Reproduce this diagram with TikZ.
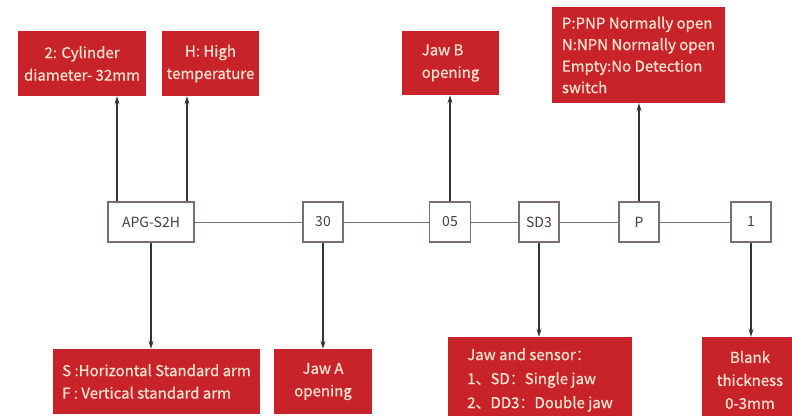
\documentclass[tikz,border=0pt]{standalone}
\usepackage{fontspec}
\setmainfont{Noto Sans CJK SC}
\newfontfamily\tagfont[FakeBold=0.7]{Noto Sans CJK SC}
\usetikzlibrary{arrows.meta, calc}
\definecolor{tagred}{HTML}{C8222A}
\definecolor{tagtext}{HTML}{F8E4CE}
\definecolor{codeline}{HTML}{7D6D6B}
\tikzset{
	codebox/.style={draw=codeline, line width=1.2pt, fill=white, minimum width=40pt, minimum height=40pt, inner sep=2pt, font=\fontsize{14}{16}\selectfont\color{black!75}}
}
\tikzset{
	tagbox/.style={fill=tagred, text=tagtext, inner sep=2pt, font=\tagfont\fontsize{15}{22.5}\selectfont}
}
\tikzset{
	link/.style={draw=codeline, line width=1pt},
	pointer/.style={draw=black!80, line width=1.4pt, -{Stealth[length=8pt,width=5pt]}}
}

\begin{document}
\begin{tikzpicture}[x=1pt, y=-1pt]
      \useasboundingbox (0,0) rectangle (792,415);
      % model code
      \node[codebox, minimum width=86pt] (series) at (151,222) {APG-S2H};
      \node[codebox] (jawa) at (323,222) {30};
      \node[codebox, minimum width=41pt] (jawb) at (450,222) {05};
      \node[codebox] (sensor) at (539,222) {SD3};
      \node[codebox] (switch) at (639,222) {P};
      \node[codebox] (blank) at (751,222) {1};
      \draw[link] (series) -- (jawa);
      \draw[link] (jawa) -- (jawb);
      \draw[link] (jawb) -- (sensor);
      \draw[link] (sensor) -- (switch);
      \draw[link] (switch) -- (blank);
      % explanations above
      \node[tagbox, minimum width=128pt, minimum height=65pt, align=center] (tdia) at (82,63.5) {2: Cylinder\\diameter- 32mm};
      \node[tagbox, minimum width=97pt, minimum height=65pt, align=center] (ttemp) at (210.5,63.5) {H: High\\temperature};
      \node[tagbox, minimum width=97pt, minimum height=64pt, align=left] (tjawb) at (450.5,63) {Jaw B\\opening};
      \node[tagbox, minimum width=173pt, minimum height=96pt, align=left, font=\tagfont\fontsize{15}{21.5}\selectfont] (tswitch) at (638.5,55) {P:PNP Normally open\\N:NPN Normally open\\Empty:No Detection\\switch};
      % explanations below
      \node[tagbox, minimum width=207pt, minimum height=65pt, align=left] (tarm) at (156.5,381.5) {S :Horizontal Standard arm\\F : Vertical standard arm};
      \node[tagbox, minimum width=98pt, minimum height=65pt, align=center] (tjawa) at (323,381.5) {Jaw A\\opening};
      \node[tagbox, minimum width=184pt, minimum height=86pt, align=left, font=\tagfont\fontsize{15}{24}\selectfont] (tsensor) at (540,380) {Jaw and sensor：\\1、SD：Single jaw\\2、DD3：Double jaw};
      \node[tagbox, minimum width=96pt, minimum height=86pt, align=center, font=\tagfont\fontsize{15}{23}\selectfont] (tblank) at (750,380) {Blank\\thickness\\0-3mm};
      % pointers
      \draw[pointer] ([xshift=-34pt]series.north) -- ([xshift=-34pt]series.north |- tdia.south);
      \draw[pointer] ([xshift=36pt]series.north) -- ([xshift=36pt]series.north |- ttemp.south);
      \draw[pointer] (jawb.north) -- (jawb.north |- tjawb.south);
      \draw[pointer] (switch.north) -- (switch.north |- tswitch.south);
      \draw[pointer] (series.south) -- (series.south |- tarm.north);
      \draw[pointer] (jawa.south) -- (tjawa.north);
      \draw[pointer] (sensor.south) -- (sensor.south |- tsensor.north);
      \draw[pointer] (blank.south) -- (blank.south |- tblank.north);
\end{tikzpicture}
\end{document}
